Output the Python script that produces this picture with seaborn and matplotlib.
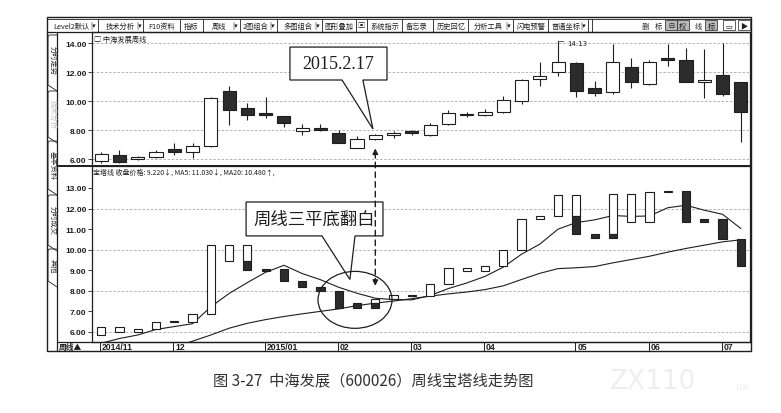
import numpy as np
import matplotlib
matplotlib.use('Agg')
import matplotlib.pyplot as plt
from matplotlib.patches import Rectangle, Polygon, Ellipse, ConnectionPatch
from matplotlib.lines import Line2D
import matplotlib.transforms as mtransforms
import seaborn as sns

# weekly candles of 中海发展 (600026), Nov 2014 - Jul 2015
week_open = [5.87, 6.28, 6.00, 6.16, 6.66, 6.50, 6.92, 10.72, 9.51, 9.17,
             8.94, 7.92, 8.15, 7.80, 6.78, 7.37, 7.64, 7.92, 7.69, 8.44,
             9.13, 9.01, 9.24, 9.99, 11.52, 11.97, 12.61, 10.88, 10.60, 12.36,
             11.15, 13.00, 12.84, 11.33, 11.79, 11.29]
week_close = [6.32, 5.82, 6.16, 6.50, 6.46, 6.89, 10.22, 9.40, 9.01, 9.01,
              8.51, 8.15, 8.00, 7.14, 7.37, 7.64, 7.80, 7.83, 8.33, 9.17,
              9.01, 9.24, 10.04, 11.45, 11.70, 12.66, 10.72, 10.54, 12.72, 11.29,
              12.72, 12.84, 11.29, 11.47, 10.49, 9.24]
week_high = [6.50, 6.62, 6.20, 6.60, 7.12, 7.12, 10.30, 11.02, 9.85, 10.31,
             9.00, 8.40, 8.44, 7.99, 7.58, 7.76, 7.94, 8.03, 8.51, 9.35,
             9.24, 9.47, 10.38, 11.52, 12.66, 14.13, 12.72, 11.36, 13.90, 13.00,
             12.80, 13.90, 13.68, 13.57, 14.00, 11.29]
week_low = [5.72, 5.70, 5.95, 6.10, 6.28, 6.05, 6.85, 8.37, 8.67, 8.85,
            8.21, 7.64, 7.95, 7.10, 6.75, 7.30, 7.42, 7.64, 7.60, 8.33,
            8.88, 8.94, 9.17, 9.81, 11.02, 11.70, 10.26, 10.38, 10.49, 10.88,
            11.10, 12.43, 11.29, 10.20, 10.38, 7.19]

# 宝塔线 pieces: white (rising) and black (falling) part of every week
nan = np.nan
tower_white_lo = [5.84, 6.00, 6.00, 6.13, 6.46, 6.49, 6.89, 9.44, 9.44, nan,
                  nan, nan, nan, nan, nan, 7.41, 7.60, nan, 7.76, 8.33,
                  8.98, 8.98, 9.21, 9.99, 11.50, 11.66, 11.66, nan, 10.77, 11.34,
                  11.34, 12.79, nan, nan, nan, nan]
tower_white_hi = [6.25, 6.25, 6.12, 6.49, 6.50, 6.89, 10.24, 10.24, 10.24, nan,
                  nan, nan, nan, nan, nan, 7.60, 7.78, nan, 8.33, 9.11,
                  9.11, 9.21, 9.99, 11.50, 11.66, 12.66, 12.66, nan, 12.71, 12.71,
                  12.79, 12.84, nan, nan, nan, nan]
tower_black_lo = [nan, nan, nan, nan, nan, nan, nan, nan, 9.00, 8.98,
                  8.50, 8.17, 7.98, 7.17, 7.17, 7.17, nan, 7.74, nan, nan,
                  nan, nan, nan, nan, nan, nan, 10.77, 10.58, 10.58, nan,
                  nan, nan, 11.34, 11.34, 10.50, 9.22]
tower_black_hi = [nan, nan, nan, nan, nan, nan, nan, nan, 9.44, 9.06,
                  9.08, 8.50, 8.17, 7.98, 7.41, 7.41, nan, 7.78, nan, nan,
                  nan, nan, nan, nan, nan, nan, 11.66, 10.77, 10.77, nan,
                  nan, nan, 12.84, 11.50, 11.50, 10.50]

ma5 = [5.45, 5.68, 5.85, 6.12, 6.26, 6.40, 7.22, 7.87, 8.40, 8.90,
       9.24, 8.84, 8.54, 8.17, 7.88, 7.64, 7.57, 7.56, 7.77, 8.11,
       8.38, 8.70, 9.15, 9.78, 10.27, 11.00, 11.32, 11.45, 11.66, 11.62,
       11.64, 12.04, 12.16, 11.92, 11.72, 11.03]
ma20 = [nan, nan, nan, nan, 5.25, 5.55, 5.85, 6.18, 6.42, 6.60,
        6.75, 6.88, 7.00, 7.12, 7.28, 7.40, 7.50, 7.62, 7.74, 7.85,
        7.94, 8.06, 8.24, 8.55, 8.85, 9.08, 9.12, 9.18, 9.36, 9.52,
        9.68, 9.88, 10.06, 10.22, 10.38, 10.48]

date_ticks = [0, 4, 9, 13, 17, 21, 26, 30, 34]
date_labels = ['2014/11', '12', '2015/01', '02', '03', '04', '05', '06', '07']
up_ticks = [6, 8, 10, 12, 14]
low_ticks = [6, 7, 8, 9, 10, 11, 12, 13]
up_grid = [6, 8, 10, 12, 14]
low_grid = [6, 8, 10, 12]

toolbar_left = [('Level2默认', 71), ('|▾', 93), ('技术分析', 120), ('|▾', 139),
                ('F10资料', 162), ('指标', 191), ('周线', 219), ('|▾', 235),
                ('2图组合', 256), ('|▾', 272), ('多图组合', 298), ('|▾', 317),
                ('图形叠加', 339), ('▣', 361), ('系统指示', 385), ('备忘录', 417),
                ('历史回忆', 451), ('分析工具', 488), ('|▾', 508), ('闪电预警', 531),
                ('普通坐标', 566), ('|▾', 583)]
toolbar_seps = [98, 143, 180, 203, 240, 277, 322, 356, 367, 402, 433, 468, 513, 548, 588, 592]
toolbar_right = [('删', 645), ('标', 658), ('⊟', 671), ('权', 683), ('线', 698),
                 ('标', 711), ('▭', 729), ('▶', 744)]
side_tabs = [('分时走势', 36, 86, '#222222'), ('技术分析', 92, 138, '#bbbbbb'),
             ('基本资料', 142, 190, '#222222'), ('分时成交', 196, 246, '#222222'),
             ('其他', 250, 282, '#222222')]

sns.set_theme(style='white')
plt.rcParams['font.family'] = ['Noto Sans CJK SC', 'DejaVu Sans']

INK = '#1e1e1e'
DARK = '#2c2c2c'
W, H = 781, 414


def fx(x):
    return x / W


def fy(y):
    return 1 - y / H


def fline(x0, y0, x1, y1, lw=0.9, color=INK):
    fig.add_artist(Line2D([fx(x0), fx(x1)], [fy(y0), fy(y1)], lw=lw, color=color,
                          transform=fig.transFigure))


fig = plt.figure(figsize=(7.81, 4.14), dpi=100)
fig.patch.set_facecolor('white')

ax_up = fig.add_axes([fx(92), fy(167), (750 - 92) / W, (167 - 33) / H])
ax_low = fig.add_axes([fx(92), fy(343), (750 - 92) / W, (343 - 167) / H])

idx = np.arange(len(week_open))

# upper panel: weekly candles
o = np.array(week_open)
c = np.array(week_close)
rise = c >= o
mid = (o + c) / 2
body_h = np.maximum(np.abs(c - o), 0.12)
ax_up.vlines(idx, week_low, week_high, color=INK, lw=0.8, zorder=2)
ax_up.bar(idx[rise], body_h[rise], bottom=mid[rise] - body_h[rise] / 2, width=0.72,
          color='white', edgecolor=INK, lw=0.8, zorder=3)
ax_up.bar(idx[~rise], body_h[~rise], bottom=mid[~rise] - body_h[~rise] / 2, width=0.72,
          color=DARK, edgecolor=INK, lw=0.8, zorder=3)
ax_up.annotate('14.13', xy=(25, 14.13), xytext=(25.5, 13.98), fontsize=5,
               family='DejaVu Sans', color=INK, va='center',
               arrowprops=dict(arrowstyle='-', lw=0.5, color=INK, shrinkA=0, shrinkB=0))

# lower panel: 宝塔线 + MA5 / MA20
wl = np.array(tower_white_lo)
wh = np.array(tower_white_hi)
bl = np.array(tower_black_lo)
bh = np.array(tower_black_hi)
mw = ~np.isnan(wl)
mb = ~np.isnan(bl)
ax_low.bar(idx[mw], np.maximum(wh[mw] - wl[mw], 0.07), bottom=wl[mw], width=0.45,
           color='white', edgecolor=INK, lw=0.8, zorder=3)
ax_low.bar(idx[mb], np.maximum(bh[mb] - bl[mb], 0.07), bottom=bl[mb], width=0.45,
           color=DARK, edgecolor=INK, lw=0.8, zorder=3)
sns.lineplot(x=idx, y=ma5, ax=ax_low, color=INK, lw=0.8, zorder=2)
sns.lineplot(x=idx, y=ma20, ax=ax_low, color=INK, lw=0.8, zorder=2)

for ax, ylim, ticks, grid in [(ax_up, (5.52, 14.76), up_ticks, up_grid),
                              (ax_low, (5.51, 14.07), low_ticks, low_grid)]:
    ax.set_xlim(-0.5, 35.5)
    ax.set_ylim(*ylim)
    ax.set_xticks([])
    ax.set_yticks(ticks)
    ax.set_yticklabels([f'{t:.2f}' for t in ticks], family='Liberation Sans',
                       fontweight='bold', fontsize=6, color=INK)
    ax.tick_params(axis='y', direction='out', length=3, width=0.6, pad=1,
                   left=True, color=INK)
    ax.set_xlabel('')
    ax.set_ylabel('')
    for g in grid:
        ax.axhline(g, color='#a8a8a8', lw=0.6, ls=(0, (3, 2)), zorder=1)
    for s in ax.spines.values():
        s.set_color(INK)
        s.set_linewidth(0.9)
    ax.set_facecolor('white')

ax_up.text(0.003, 0.975, '□ 中海发展周线', transform=ax_up.transAxes, fontsize=5.2,
           va='top', ha='left', color=INK)
ax_low.text(0.002, 0.99, '宝塔线 收盘价格: 9.220↓, MA5: 11.030↓, MA20: 10.480↑,',
            transform=ax_low.transAxes, fontsize=5, va='top', ha='left', color=INK)

# date row under the lower panel
trans = mtransforms.blended_transform_factory(ax_low.transData, ax_low.transAxes)
for t, lab in zip(date_ticks, date_labels):
    ax_low.add_line(Line2D([t - 0.05, t - 0.05], [0, -9 / 176], transform=trans,
                           color=INK, lw=0.7, clip_on=False))
    ax_low.text(t + 0.05, -4.6 / 176, lab, transform=trans, fontsize=6.2,
                family='Liberation Sans', fontweight='bold', va='center', ha='left',
                color=INK, clip_on=False)

# callout on the upper panel
box_up = [(10.33, 13.72), (15.64, 13.72), (15.64, 11.45), (14.32, 11.45),
          (14.87, 8.07), (13.18, 11.45), (10.33, 11.45)]
ax_up.add_patch(Polygon(box_up, closed=True, facecolor='white', edgecolor=INK,
                        lw=0.9, zorder=6))
ax_up.text(12.98, 12.62, '2015.2.17', family='Liberation Serif', fontsize=13,
           ha='center', va='center', color=INK, zorder=7)

# callout and ellipse on the lower panel
box_low = [(7.93, 12.32), (15.42, 12.32), (15.42, 10.67), (13.89, 10.67),
           (13.61, 8.55), (12.08, 10.67), (7.93, 10.67)]
ax_low.add_patch(Polygon(box_low, closed=True, facecolor='white', edgecolor=INK,
                         lw=0.9, zorder=6))
ax_low.text(11.67, 11.5, '周线三平底翻白', fontsize=12.5, ha='center', va='center',
            color=INK, zorder=7)
ax_low.add_patch(Ellipse((13.89, 7.56), 4.05, 2.77, facecolor='none', edgecolor=INK,
                         lw=0.9, zorder=6))

# dashed link between the two panels (week of 2015.2.17)
con = ConnectionPatch(xyA=(15, 6.45), coordsA=ax_up.transData,
                      xyB=(15, 8.55), coordsB=ax_low.transData,
                      color=INK, lw=1.0, ls=(0, (4, 3)), zorder=8)
fig.add_artist(con)
ax_up.annotate('', xy=(15, 6.73), xytext=(15, 6.3),
               arrowprops=dict(arrowstyle='-|>', mutation_scale=8, lw=1.0, color=INK,
                               shrinkA=0, shrinkB=0), zorder=8)
ax_low.annotate('', xy=(15, 8.24), xytext=(15, 8.6),
                arrowprops=dict(arrowstyle='-|>', mutation_scale=8, lw=1.0, color=INK,
                                shrinkA=0, shrinkB=0), zorder=8)

# software frame: outer box, toolbar, side tabs
fig.add_artist(Rectangle((fx(47), fy(352)), (751 - 47) / W, (352 - 18) / H,
                         transform=fig.transFigure, fill=False, lw=1.0, edgecolor=INK))
fline(47, 20, 751, 20, lw=0.6)
fline(47, 33, 751, 33, lw=0.9)
fline(57, 33, 57, 352, lw=0.9)
fline(57, 167, 751, 167, lw=1.4)
fline(57, 343, 751, 343, lw=0.9)
for sx in toolbar_seps:
    fline(sx, 20, sx, 33, lw=0.6)
for lab, x in toolbar_left:
    fig.text(fx(x), fy(26.5), lab, fontsize=5.2, ha='center', va='center', color=INK)
for x in [671, 683, 711]:
    fig.add_artist(Rectangle((fx(x - 6), fy(31)), 12 / W, 10 / H, transform=fig.transFigure,
                             facecolor='#b8b8b8', edgecolor=INK, lw=0.5))
for x in [729, 744]:
    fig.add_artist(Rectangle((fx(x - 6), fy(31)), 12 / W, 10 / H, transform=fig.transFigure,
                             facecolor='none', edgecolor=INK, lw=0.5))
for lab, x in toolbar_right:
    fig.text(fx(x), fy(26.5), lab, fontsize=5.2, ha='center', va='center', color=INK)

for lab, t, b, col in side_tabs:
    pts = [(57, t), (49, t), (48, t + 2), (48, b), (57, b + 6)]
    fig.add_artist(Polygon([(fx(px), fy(py)) for px, py in pts], closed=False,
                           transform=fig.transFigure, fill=False, edgecolor=INK, lw=0.6))
    fig.text(fx(52.5), fy((t + b) / 2), lab, fontsize=5.2, rotation=270, ha='center',
             va='center', color=col)

fig.text(fx(59), fy(347.8), '周线▲', fontsize=5.6, ha='left', va='center', color=INK,
         fontweight='bold')

# caption and faint watermark
fig.text(fx(373), fy(381), '图 3-27  中海发展（600026）周线宝塔线走势图', fontsize=11,
         ha='center', va='center', color='#333333')
fig.text(fx(610), fy(382), 'ZX110', fontsize=19, ha='left', va='center', color='#eeeeee',
         family='DejaVu Sans')
fig.text(fx(733), fy(387), '.ux', fontsize=7, ha='left', va='center', color='#eeeeee',
         family='DejaVu Sans')

fig.savefig('out.png', dpi=100, facecolor='white')
